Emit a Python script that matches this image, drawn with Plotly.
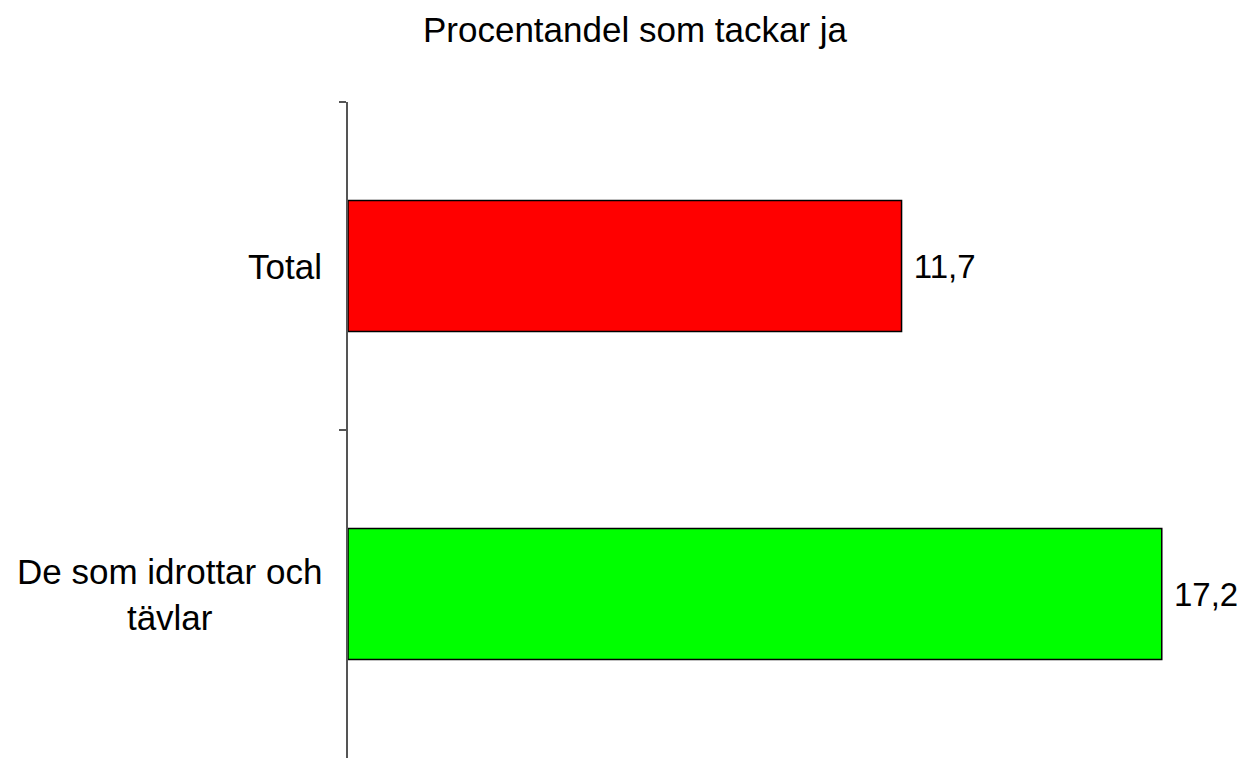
import plotly.graph_objects as go

categories = ["Total", "De som idrottar och<br>tävlar"]
values = [11.7, 17.2]
colors = ["#ff0000", "#00ff00"]
title_text = "Procentandel som tackar ja"

FONT = "Liberation Sans, Arial"
FS = 35

fig = go.Figure(go.Bar(
    y=categories,
    x=values,
    orientation="h",
    marker=dict(color=colors, line=dict(color="black", width=1.5)),
    texttemplate="\u00a0%{x:.1f}",
    textposition="outside",
    constraintext="none",
    textfont=dict(family=FONT, size=33, color="black"),
    cliponaxis=False,
))

for cat in categories:
    fig.add_annotation(
        x=0, xref="paper", y=cat, yref="y",
        text=cat, showarrow=False, xanchor="right", yanchor="middle",
        align="center", xshift=-24,
        font=dict(family=FONT, size=FS, color="black"),
    )

fig.update_layout(
    width=1237, height=751,
    paper_bgcolor="white", plot_bgcolor="white",
    separators=", ",
    bargap=0.6,
    showlegend=False,
    margin=dict(l=340, r=43, t=94, b=1),
    font=dict(family=FONT, size=FS, color="black"),
    title=dict(text=title_text, x=0.5069, xanchor="center", y=0.9707, yanchor="middle",
               font=dict(family=FONT, size=FS, color="black")),
)
fig.update_xaxes(range=[0, 18.05], visible=False, automargin=False)
fig.update_yaxes(
    autorange="reversed",
    automargin=False,
    showline=True, linecolor="#555555", linewidth=1.5,
    ticks="outside", ticklen=7, tickcolor="#555555", tickwidth=1.5,
    tickson="boundaries",
    showticklabels=False,
    showgrid=False, zeroline=False,
)

fig.write_html("out.html")
